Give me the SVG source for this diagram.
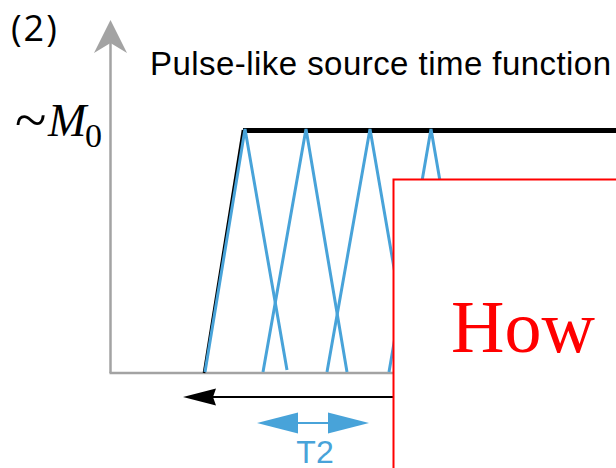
<svg xmlns="http://www.w3.org/2000/svg" width="616" height="468" viewBox="0 0 616 468">
<style>
.tri{fill:none;stroke:#48a3d9;stroke-width:3;stroke-linejoin:miter}
.sans{font-family:"Liberation Sans",Arial,sans-serif}
.serif{font-family:"Liberation Serif","Times New Roman",serif}
</style>
<rect width="616" height="468" fill="#fff"/>
<g id="axes">
<line x1="110.5" y1="40" x2="110.5" y2="373" stroke="#a3a3a3" stroke-width="2.5"/>
<polygon points="110.5,20 127,53 110.5,43 94,53" fill="#a3a3a3"/>
<line x1="109.5" y1="373" x2="616" y2="373" stroke="#a3a3a3" stroke-width="2.5"/>
</g>
<g id="title-2"><text x="11" y="41" style="font-family:'Open Sans',sans-serif;font-size:36px;letter-spacing:2px">(2)</text></g>
<g id="m0"><text x="15" y="139" class="serif" style="font-size:58px">~</text><text x="48" y="136" class="serif" style="font-size:46px;font-style:italic">M</text><text x="85" y="147" class="serif" style="font-size:34px">0</text></g>
<g id="title"><text x="150" y="75" class="sans" style="font-size:33px;letter-spacing:0.45px">Pulse-like source time function</text></g>
<g id="stf">
<polyline points="204,373 243,130" fill="none" stroke="#000" stroke-width="2.6"/>
<line x1="243" y1="130.5" x2="616" y2="130.5" stroke="#000" stroke-width="5"/>
</g>
<g id="triangles">
<polyline class="tri" points="205,372 245,129 287,370"/>
<polyline class="tri" points="263,372 306,129 347,372"/>
<polyline class="tri" points="327,372 370,129 412,372"/>
<polyline class="tri" points="389,372 431,129 473,372"/>
</g>
<g id="arrows">
<line x1="205" y1="397" x2="400" y2="397" stroke="#000" stroke-width="2"/>
<polygon points="183,397 216,388.5 213,397 216,405.5" fill="#000"/>
<line x1="290" y1="423" x2="335" y2="423" stroke="#48a3d9" stroke-width="2"/>
<polygon points="257,423 298,412.5 298,433.5" fill="#48a3d9"/>
<polygon points="369,423 328,412.5 328,433.5" fill="#48a3d9"/>
</g>
<g id="t2"><text x="315" y="463" class="sans" style="font-size:32px;fill:#48a3d9" text-anchor="middle">T2</text></g>
<g id="box">
<rect x="393.5" y="179.5" width="240" height="300" fill="#fff" stroke="#ff0000" stroke-width="2"/>
<text x="451" y="352" class="serif" style="font-size:74px;fill:#ff0000">How</text>
</g>
</svg>
